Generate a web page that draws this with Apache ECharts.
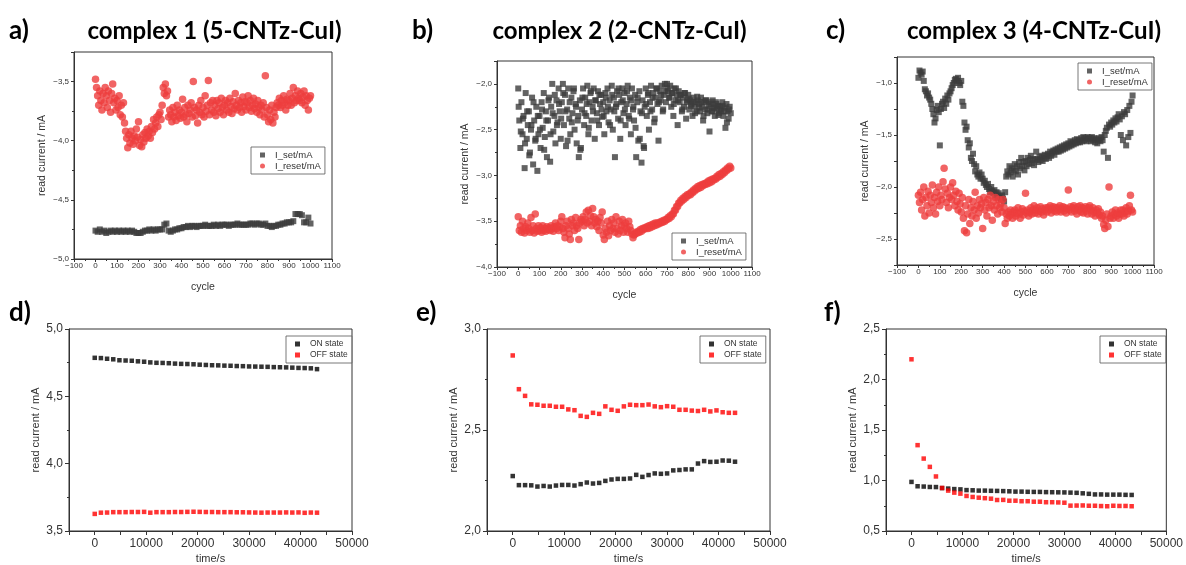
<!DOCTYPE html>
<html>
<head>
<meta charset="utf-8">
<script src="https://cdn.jsdelivr.net/npm/echarts@6/dist/echarts.min.js"></script>
<style>
html,body{margin:0;padding:0;background:#fff;}
#chart{width:1186px;height:565px;}
</style>
</head>
<body>
<div id="chart"></div>
<script>
// ---------------- DATA ----------------
// Panels a-c: read current (mA) vs cycle; values sampled every STEP cycles starting at cycle START
const A_SET_STEP = 10;
const A_SET = [
-4.76,-4.77,-4.75,-4.77,-4.76,-4.78,-4.77,-4.76,-4.77,-4.76,
-4.77,-4.76,-4.77,-4.76,-4.77,-4.76,-4.77,-4.76,-4.77,-4.78,
-4.78,-4.78,-4.77,-4.76,-4.76,-4.75,-4.76,-4.75,-4.76,-4.75,
-4.75,-4.75,-4.71,-4.70,-4.76,-4.77,-4.76,-4.75,-4.75,-4.74,
-4.74,-4.73,-4.73,-4.72,-4.73,-4.72,-4.72,-4.73,-4.72,-4.72,
-4.72,-4.71,-4.72,-4.72,-4.72,-4.71,-4.72,-4.71,-4.72,-4.71,
-4.71,-4.71,-4.72,-4.71,-4.71,-4.71,-4.70,-4.71,-4.71,-4.71,
-4.71,-4.71,-4.70,-4.70,-4.71,-4.70,-4.70,-4.71,-4.71,-4.70,
-4.72,-4.72,-4.73,-4.72,-4.72,-4.71,-4.71,-4.70,-4.70,-4.69,
-4.69,-4.69,-4.68,-4.62,-4.62,-4.62,-4.63,-4.69,-4.69,-4.65,
-4.70];
const A_RESET_STEP = 5;
const A_RESET = [
-3.48,-3.55,-3.62,-3.70,-3.58,-3.66,-3.74,-3.60,-3.68,-3.55,
-3.62,-3.72,-3.58,-3.66,-3.76,-3.60,-3.52,-3.68,-3.64,-3.74,
-3.66,-3.72,-3.62,-3.78,-3.70,-3.80,-3.68,-3.85,-3.92,-3.98,
-4.06,-3.95,-4.02,-3.92,-3.98,-4.03,-3.96,-4.00,-3.90,-3.97,
-3.84,-4.04,-3.99,-4.05,-3.95,-4.01,-3.93,-3.98,-3.90,-3.96,
-3.92,-3.98,-3.88,-3.93,-3.82,-3.90,-3.85,-3.80,-3.88,-3.78,
-3.76,-3.82,-3.70,-3.55,-3.60,-3.52,-3.62,-3.58,-3.80,-3.74,
-3.78,-3.84,-3.72,-3.80,-3.76,-3.83,-3.70,-3.79,-3.74,-3.81,
-3.76,-3.65,-3.80,-3.72,-3.78,-3.84,-3.70,-3.77,-3.74,-3.68,
-3.80,-3.50,-3.72,-3.79,-3.74,-3.85,-3.70,-3.76,-3.66,-3.78,
-3.72,-3.80,-3.62,-3.75,-3.70,-3.49,-3.78,-3.68,-3.74,-3.66,
-3.76,-3.70,-3.79,-3.66,-3.73,-3.68,-3.76,-3.64,-3.72,-3.78,
-3.70,-3.66,-3.74,-3.68,-3.76,-3.64,-3.71,-3.77,-3.67,-3.73,
-3.60,-3.70,-3.74,-3.66,-3.72,-3.68,-3.76,-3.63,-3.71,-3.67,
-3.74,-3.68,-3.62,-3.72,-3.66,-3.75,-3.70,-3.64,-3.73,-3.69,
-3.76,-3.66,-3.72,-3.78,-3.70,-3.74,-3.68,-3.80,-3.45,-3.72,
-3.78,-3.84,-3.74,-3.82,-3.70,-3.85,-3.76,-3.80,-3.72,-3.68,
-3.70,-3.64,-3.72,-3.66,-3.70,-3.62,-3.68,-3.74,-3.65,-3.70,
-3.66,-3.60,-3.70,-3.64,-3.55,-3.68,-3.62,-3.66,-3.58,-3.64,
-3.66,-3.60,-3.68,-3.63,-3.58,-3.70,-3.62,-3.66,-3.74,-3.64,
-3.62];
const B_SET_STEP = 5;
const B_SET = [
-2.05,-2.40,-2.70,-2.20,-2.55,-2.35,-2.92,-2.10,-2.60,-2.45,
-2.30,-2.75,-2.50,-2.15,-2.88,-2.40,-2.62,-2.25,-2.95,-2.55,
-2.35,-2.70,-2.20,-2.48,-2.10,-2.58,-2.30,-2.80,-2.40,-2.15,
-2.85,-2.25,-2.00,-2.52,-2.35,-2.65,-2.18,-2.42,-2.05,-2.30,
-2.60,-2.20,-2.00,-2.45,-2.12,-2.68,-2.28,-2.05,-2.38,-2.55,
-2.15,-2.32,-2.08,-2.50,-2.22,-2.65,-2.40,-2.80,-2.18,-2.70,
-2.28,-2.05,-2.45,-2.15,-2.35,-2.02,-2.55,-2.20,-2.10,-2.40,
-2.25,-2.05,-2.60,-2.18,-2.32,-2.08,-2.45,-2.22,-2.12,-2.36,
-2.20,-2.55,-2.10,-2.30,-2.05,-2.42,-2.18,-2.28,-2.02,-2.50,
-2.15,-2.80,-2.25,-2.08,-2.38,-2.12,-2.60,-2.20,-2.05,-2.32,
-2.10,-2.45,-2.22,-2.02,-2.35,-2.15,-2.55,-2.05,-2.28,-2.40,
-2.12,-2.80,-2.20,-2.62,-2.08,-2.30,-2.86,-2.18,-2.68,-2.25,
-2.05,-2.35,-2.12,-2.50,-2.20,-2.02,-2.28,-2.10,-2.42,-2.15,
-2.05,-2.22,-2.62,-2.08,-2.18,-2.02,-2.30,-2.12,-2.00,-2.20,
-2.00,-2.08,-2.15,-2.02,-2.25,-2.10,-2.35,-2.05,-2.18,-2.12,
-2.45,-2.08,-2.20,-2.12,-2.30,-2.15,-2.25,-2.10,-2.38,-2.18,
-2.12,-2.28,-2.18,-2.22,-2.35,-2.15,-2.25,-2.20,-2.30,-2.18,
-2.22,-2.30,-2.15,-2.25,-2.40,-2.20,-2.28,-2.18,-2.32,-2.24,
-2.52,-2.22,-2.30,-2.18,-2.26,-2.35,-2.20,-2.28,-2.24,-2.32,
-2.25,-2.30,-2.20,-2.35,-2.26,-2.48,-2.22,-2.30,-2.38,-2.25,
-2.32];
// further I_set readings of complex 2, cycles 2, 12, 22, ... 992
const B_SET2_START = 2, B_SET2_STEP = 10;
const B_SET2 = [
-2.25,-2.52,-2.38,-2.65,-2.30,-2.78,-2.45,-2.20,-2.60,-2.35,
-2.50,-2.28,-2.72,-2.40,-2.18,-2.55,-2.32,-2.12,-2.45,-2.22,
-2.38,-2.10,-2.30,-2.62,-2.20,-2.42,-2.05,-2.25,-2.35,-2.72,
-2.15,-2.32,-2.22,-2.48,-2.08,-2.30,-2.18,-2.40,-2.12,-2.28,
-2.35,-2.15,-2.25,-2.45,-2.12,-2.30,-2.22,-2.05,-2.40,-2.18,
-2.28,-2.08,-2.38,-2.18,-2.25,-2.48,-2.15,-2.60,-2.32,-2.70,
-2.22,-2.10,-2.30,-2.15,-2.38,-2.05,-2.20,-2.12,-2.28,-2.08,
-2.05,-2.15,-2.10,-2.22,-2.05,-2.18,-2.12,-2.28,-2.10,-2.20,
-2.16,-2.24,-2.20,-2.32,-2.14,-2.26,-2.20,-2.35,-2.18,-2.28,
-2.20,-2.30,-2.26,-2.22,-2.34,-2.28,-2.24,-2.30,-2.42,-2.28];
const B_RESET_STEP = 5;
const B_RESET = [
-3.45,-3.60,-3.55,-3.62,-3.50,-3.58,-3.63,-3.56,-3.60,-3.52,
-3.58,-3.62,-3.46,-3.60,-3.55,-3.63,-3.42,-3.58,-3.61,-3.55,
-3.60,-3.57,-3.62,-3.55,-3.60,-3.58,-3.61,-3.56,-3.59,-3.57,
-3.60,-3.55,-3.58,-3.61,-3.56,-3.52,-3.58,-3.55,-3.60,-3.56,
-3.50,-3.45,-3.58,-3.62,-3.68,-3.55,-3.50,-3.58,-3.64,-3.70,
-3.48,-3.55,-3.52,-3.60,-3.46,-3.55,-3.58,-3.70,-3.52,-3.48,
-3.50,-3.45,-3.55,-3.48,-3.40,-3.52,-3.38,-3.50,-3.44,-3.55,
-3.36,-3.45,-3.52,-3.48,-3.56,-3.50,-3.60,-3.46,-3.52,-3.40,
-3.65,-3.70,-3.58,-3.62,-3.50,-3.66,-3.55,-3.60,-3.48,-3.58,
-3.52,-3.62,-3.45,-3.58,-3.64,-3.50,-3.60,-3.55,-3.48,-3.62,
-3.55,-3.52,-3.58,-3.62,-3.50,-3.56,-3.60,-3.64,-3.68,-3.65,
-3.64,-3.62,-3.63,-3.61,-3.62,-3.59,-3.61,-3.58,-3.59,-3.57,
-3.58,-3.56,-3.58,-3.55,-3.57,-3.54,-3.56,-3.53,-3.55,-3.52,
-3.54,-3.52,-3.53,-3.51,-3.52,-3.50,-3.51,-3.49,-3.50,-3.48,
-3.48,-3.46,-3.47,-3.44,-3.45,-3.42,-3.42,-3.38,-3.38,-3.34,
-3.34,-3.30,-3.30,-3.27,-3.28,-3.25,-3.26,-3.23,-3.24,-3.21,
-3.22,-3.20,-3.21,-3.18,-3.19,-3.16,-3.17,-3.14,-3.15,-3.12,
-3.14,-3.11,-3.13,-3.10,-3.11,-3.09,-3.10,-3.08,-3.09,-3.06,
-3.08,-3.05,-3.07,-3.04,-3.05,-3.03,-3.04,-3.01,-3.02,-2.99,
-3.01,-2.98,-2.99,-2.96,-2.97,-2.94,-2.95,-2.92,-2.93,-2.90,
-2.92];
const C_SET_STEP = 5;
const C_SET = [
-0.95,-0.88,-0.90,-0.92,-0.89,-0.98,-1.06,-1.08,-1.12,-1.10,
-1.14,-1.16,-1.20,-1.25,-1.30,-1.38,-1.34,-1.26,-1.22,-1.28,
-1.60,-1.25,-1.20,-1.18,-1.24,-1.15,-1.20,-1.12,-1.16,-1.10,
-1.08,-1.05,-1.02,-1.00,-0.97,-0.96,-0.98,-0.95,-1.00,-1.02,
-0.98,-1.18,-1.22,-1.38,-1.45,-1.42,-1.55,-1.62,-1.58,-1.72,
-1.75,-1.68,-1.78,-1.85,-1.80,-1.88,-1.90,-1.86,-1.92,-1.88,
-1.92,-1.96,-1.94,-1.98,-2.00,-1.97,-2.02,-2.05,-2.00,-2.04,
-2.06,-2.03,-2.08,-2.05,-2.10,-2.06,-2.09,-2.12,-2.08,-2.11,
-2.14,-2.05,-1.90,-1.85,-1.88,-1.80,-1.86,-1.82,-1.90,-1.84,
-1.78,-1.85,-1.80,-1.88,-1.76,-1.82,-1.72,-1.80,-1.76,-1.84,
-1.75,-1.80,-1.72,-1.78,-1.74,-1.70,-1.77,-1.73,-1.79,-1.74,
-1.66,-1.73,-1.76,-1.71,-1.74,-1.70,-1.75,-1.72,-1.69,-1.73,
-1.70,-1.68,-1.72,-1.66,-1.70,-1.67,-1.65,-1.69,-1.64,-1.66,
-1.63,-1.66,-1.62,-1.65,-1.61,-1.64,-1.60,-1.63,-1.59,-1.62,
-1.58,-1.61,-1.56,-1.60,-1.57,-1.59,-1.55,-1.58,-1.54,-1.57,
-1.55,-1.57,-1.53,-1.56,-1.52,-1.55,-1.53,-1.56,-1.52,-1.54,
-1.53,-1.56,-1.52,-1.55,-1.53,-1.57,-1.54,-1.58,-1.55,-1.53,
-1.56,-1.52,-1.55,-1.66,-1.50,-1.46,-1.43,-1.72,-1.40,-1.42,
-1.38,-1.40,-1.36,-1.38,-1.34,-1.37,-1.33,-1.30,-1.35,-1.50,
-1.32,-1.55,-1.28,-1.30,-1.60,-1.26,-1.52,-1.22,-1.48,-1.18,
-1.12];
const C_RESET_STEP = 5;
const C_RESET = [
-2.08,-2.15,-2.05,-2.22,-2.12,-2.00,-2.28,-2.10,-2.18,-2.04,
-2.25,-2.08,-2.15,-1.98,-2.20,-2.10,-2.26,-2.05,-2.14,-2.00,
-2.18,-2.08,-2.12,-1.95,-1.82,-2.02,-2.15,-2.06,-2.20,-2.10,
-2.00,-2.12,-1.96,-2.08,-2.18,-2.04,-2.14,-2.22,-2.06,-2.16,
-2.24,-2.10,-2.30,-2.42,-2.18,-2.44,-2.26,-2.12,-2.35,-2.20,
-2.28,-2.14,-2.22,-2.05,-2.30,-2.18,-2.25,-2.12,-2.20,-2.16,
-2.40,-2.10,-2.22,-2.15,-2.28,-2.12,-2.20,-2.08,-2.18,-2.32,
-2.14,-2.22,-2.10,-2.18,-2.26,-2.12,-2.20,-2.16,-2.24,-2.12,
-2.20,-2.35,-2.26,-2.30,-2.24,-2.28,-2.22,-2.26,-2.30,-2.24,
-2.22,-2.28,-2.25,-2.20,-2.26,-2.30,-2.24,-2.21,-2.27,-2.23,
-2.06,-2.25,-2.22,-2.28,-2.24,-2.20,-2.26,-2.22,-2.18,-2.25,
-2.22,-2.20,-2.26,-2.23,-2.19,-2.24,-2.21,-2.27,-2.22,-2.20,
-2.24,-2.20,-2.22,-2.18,-2.25,-2.21,-2.19,-2.23,-2.20,-2.24,
-2.20,-2.22,-2.18,-2.24,-2.21,-2.19,-2.23,-2.20,-2.25,-2.21,
-2.03,-2.22,-2.19,-2.24,-2.20,-2.18,-2.23,-2.21,-2.26,-2.19,
-2.22,-2.18,-2.24,-2.20,-2.25,-2.21,-2.19,-2.23,-2.26,-2.20,
-2.18,-2.22,-2.26,-2.20,-2.24,-2.28,-2.22,-2.25,-2.21,-2.27,
-2.24,-2.30,-2.28,-2.36,-2.40,-2.32,-2.26,-2.38,-2.00,-2.30,
-2.28,-2.24,-2.30,-2.26,-2.22,-2.28,-2.25,-2.30,-2.26,-2.22,
-2.26,-2.22,-2.28,-2.24,-2.20,-2.26,-2.23,-2.18,-2.08,-2.22,
-2.24];

// Panels d-f: read current (mA) vs time (s)
const TIME = [0,1200,2400,3600,4800,6000,7200,8400,9600,10800,12000,13200,14400,15600,16800,18000,19200,20400,21600,22800,24000,25200,26400,27600,28800,30000,31200,32400,33600,34800,36000,37200,38400,39600,40800,42000,43200];
const D_ON = [4.786,4.784,4.779,4.775,4.768,4.766,4.764,4.760,4.757,4.752,4.749,4.748,4.746,4.743,4.741,4.740,4.738,4.735,4.733,4.731,4.730,4.728,4.727,4.725,4.724,4.722,4.721,4.720,4.719,4.717,4.716,4.715,4.713,4.711,4.710,4.708,4.702];
const D_OFF = [3.627,3.636,3.637,3.640,3.640,3.640,3.641,3.641,3.642,3.636,3.640,3.640,3.640,3.641,3.641,3.642,3.643,3.642,3.641,3.641,3.640,3.640,3.640,3.639,3.639,3.638,3.637,3.636,3.637,3.637,3.637,3.638,3.637,3.638,3.635,3.637,3.636];
const E_ON = [2.272,2.227,2.227,2.226,2.220,2.223,2.220,2.225,2.228,2.228,2.225,2.232,2.240,2.235,2.238,2.248,2.255,2.258,2.258,2.260,2.278,2.268,2.277,2.285,2.283,2.285,2.300,2.302,2.305,2.305,2.334,2.346,2.342,2.343,2.349,2.348,2.343];
const E_OFF = [2.869,2.702,2.669,2.627,2.625,2.620,2.620,2.615,2.615,2.602,2.598,2.570,2.565,2.585,2.580,2.617,2.600,2.595,2.617,2.625,2.623,2.623,2.626,2.617,2.613,2.618,2.615,2.600,2.600,2.596,2.594,2.600,2.592,2.597,2.588,2.585,2.585];
const F_ON = [0.986,0.943,0.940,0.936,0.935,0.925,0.920,0.915,0.912,0.905,0.903,0.900,0.900,0.898,0.897,0.895,0.893,0.890,0.890,0.888,0.887,0.887,0.885,0.884,0.883,0.882,0.880,0.878,0.873,0.868,0.862,0.862,0.860,0.860,0.860,0.858,0.857];
const F_OFF = [2.200,1.350,1.217,1.135,1.040,0.926,0.900,0.880,0.870,0.847,0.837,0.830,0.825,0.820,0.807,0.808,0.800,0.800,0.795,0.795,0.790,0.790,0.785,0.785,0.783,0.780,0.751,0.752,0.753,0.750,0.750,0.747,0.745,0.750,0.748,0.748,0.745];

const TITLES = ['complex 1 (5-CNTz-CuI)','complex 2 (2-CNTz-CuI)','complex 3 (4-CNTz-CuI)'];
const PANEL_LABELS = ['a)','b)','c)','d)','e)','f)'];
const Y_NAME = 'read current / mA';
const X_NAME_TOP = 'cycle';
const X_NAME_BOTTOM = 'time/s';
const NAME_SET = 'I_set/mA', NAME_RESET = 'I_reset/mA';
const NAME_ON = 'ON state', NAME_OFF = 'OFF state';

// ---------------- LAYOUT ----------------
const GRIDS = [
  {left:74, top:52, width:258, height:207},
  {left:497, top:61, width:255, height:206},
  {left:897, top:57, width:257, height:208},
  {left:69, top:329, width:283, height:202},
  {left:487, top:329, width:283, height:202},
  {left:886, top:329, width:282, height:202}
];
const Y_RANGES = [[-5,-3.25],[-4,-1.75],[-2.75,-0.75],[3.5,5.0],[2.0,3.0],[0.5,2.5]];
// panel c starts at -2.75, so its ticks are counted every 0.25
const Y_INTERVALS = [0.5,0.5,0.25,0.5,0.5,0.5];

const SET_COLOR = '#3c3c3c', RESET_COLOR = '#ee3d3d';
const ON_COLOR = '#000000', OFF_COLOR = '#ff0000';
const AX_COLOR = '#333';
const FONT = '"Liberation Sans", Arial, sans-serif';

function fmtNum(v, dec){
  let s = v.toFixed(dec).replace('.', ',');
  return s.replace('-', '\u2212');
}
function isMult(v, step){ return Math.abs(v/step - Math.round(v/step)) < 1e-6; }

const xAxes = [], yAxes = [];
for (let i=0;i<6;i++){
  const top = i<3;
  xAxes.push({
    type:'value', gridIndex:i,
    min: top ? -100 : -5000, max: top ? 1100 : 50000, interval: top ? 100 : 5000,
    name: top ? X_NAME_TOP : X_NAME_BOTTOM, nameLocation:'middle',
    nameGap: top ? 23 : 22,
    nameTextStyle:{fontFamily:FONT, fontSize: top?10.5:11, color:'#333'},
    axisLine:{show:true, onZero:false, lineStyle:{color:AX_COLOR, width:1}},
    axisTick:{show:true, inside:false, length: top?3:4, lineStyle:{color:AX_COLOR}},
    minorTick:{show: top, splitNumber:2, length:2, lineStyle:{color:AX_COLOR}},
    splitLine:{show:false},
    axisLabel:{
      fontFamily:FONT, fontSize: top?8:12, color:'#333', margin: top?3:7,
      showMinLabel:true, showMaxLabel:true,
      formatter: top ? (v)=>fmtNum(v,0)
                     : (v)=> (isMult(v,10000) && v>=0) ? String(v) : ''
    }
  });
  yAxes.push({
    type:'value', gridIndex:i,
    min: Y_RANGES[i][0], max: Y_RANGES[i][1], interval:Y_INTERVALS[i],
    name: Y_NAME, nameLocation:'middle', nameGap: top?26:28,
    nameTextStyle:{fontFamily:FONT, fontSize: top?10.5:11, color:'#333'},
    axisLine:{show:true, onZero:false, lineStyle:{color:AX_COLOR, width:1}},
    axisTick:{show:true, inside:false, length: top?3:4, lineStyle:{color:AX_COLOR}},
    minorTick:{show: Y_INTERVALS[i] === 0.5, splitNumber:2, length:2, lineStyle:{color:AX_COLOR}},
    splitLine:{show:false},
    axisLabel:{
      fontFamily:FONT, fontSize: top?8:12, color:'#333', margin: top?5:6,
      formatter:(v)=> isMult(v,0.5) ? fmtNum(v,1) : ''
    }
  });
}

function stepPoints(vals, step, start){ start = start || 0; return vals.map((y,k)=>[start + k*step, y]); }
function timePoints(vals){ return vals.map((y,k)=>[TIME[k], y]); }

const series = [];
const SQ = 6, CI = 7.5;
// panel a
series.push({type:'scatter', name:NAME_SET, xAxisIndex:0, yAxisIndex:0, symbol:'rect', symbolSize:SQ,
  itemStyle:{color:SET_COLOR}, data:stepPoints(A_SET,A_SET_STEP), silent:true});
series.push({type:'scatter', name:NAME_RESET, xAxisIndex:0, yAxisIndex:0, symbol:'circle', symbolSize:CI,
  itemStyle:{color:RESET_COLOR}, data:stepPoints(A_RESET,A_RESET_STEP), silent:true});
// panel b
series.push({type:'scatter', name:NAME_SET, xAxisIndex:1, yAxisIndex:1, symbol:'rect', symbolSize:SQ,
  itemStyle:{color:SET_COLOR}, data:stepPoints(B_SET,B_SET_STEP).concat(stepPoints(B_SET2,B_SET2_STEP,B_SET2_START)), silent:true});
series.push({type:'scatter', name:NAME_RESET, xAxisIndex:1, yAxisIndex:1, symbol:'circle', symbolSize:CI,
  itemStyle:{color:RESET_COLOR}, data:stepPoints(B_RESET,B_RESET_STEP), silent:true});
// panel c
series.push({type:'scatter', name:NAME_SET, xAxisIndex:2, yAxisIndex:2, symbol:'rect', symbolSize:SQ,
  itemStyle:{color:SET_COLOR}, data:stepPoints(C_SET,C_SET_STEP), silent:true});
series.push({type:'scatter', name:NAME_RESET, xAxisIndex:2, yAxisIndex:2, symbol:'circle', symbolSize:CI,
  itemStyle:{color:RESET_COLOR}, data:stepPoints(C_RESET,C_RESET_STEP), silent:true});

const botSets = [[D_ON,D_OFF],[E_ON,E_OFF],[F_ON,F_OFF]];
botSets.forEach((p,j)=>{
  const i = j+3;
  series.push({type:'scatter', name:NAME_ON, xAxisIndex:i, yAxisIndex:i, symbol:'rect', symbolSize:4.5,
    itemStyle:{color:ON_COLOR}, data:timePoints(p[0]), silent:true});
  series.push({type:'scatter', name:NAME_OFF, xAxisIndex:i, yAxisIndex:i, symbol:'rect', symbolSize:4.5,
    itemStyle:{color:OFF_COLOR}, data:timePoints(p[1]), silent:true});
});

function legendAt(left, top, width, names, icons, fontSize){
  return {
    show:true, orient:'vertical', left:left, top:top, width:width,
    backgroundColor:'#fff', borderColor:'#555', borderWidth:0.8,
    padding:[3,4,3,9], itemGap:1, itemWidth:5, itemHeight:5,
    selectedMode:false,
    textStyle:{fontFamily:FONT, fontSize:fontSize, color:'#333', padding:[0,0,0,5], lineHeight:10},
    data: names.map((n,k)=>({name:n, icon:icons[k]}))
  };
}
const legends = [
  legendAt(251,147,74,[NAME_SET,NAME_RESET],['rect','circle'],9.5),
  legendAt(672,233,75,[NAME_SET,NAME_RESET],['rect','circle'],9.5),
  legendAt(1078,63,74,[NAME_SET,NAME_RESET],['rect','circle'],9.5),
  legendAt(286,336,59,[NAME_ON,NAME_OFF],['rect','rect'],8.5),
  legendAt(700,336,62,[NAME_ON,NAME_OFF],['rect','rect'],8.5),
  legendAt(1100,336,62,[NAME_ON,NAME_OFF],['rect','rect'],8.5)
];

const TFONT = 'bold 24px Lato, "Open Sans", sans-serif';
const LFONT = 'bold 26px Lato, "Open Sans", sans-serif';
const graphics = [];
const labelPos = [[9,31],[412,31],[826,31],[9,313],[416,313],[824,313]];
PANEL_LABELS.forEach((t,k)=>{
  graphics.push({type:'text', x:labelPos[k][0], y:labelPos[k][1], silent:true,
    style:{text:t, font:LFONT, fill:'#000', textAlign:'left', textVerticalAlign:'middle'}});
});
const titlePos = [[214.5,31],[619.5,31],[1034,31]];
TITLES.forEach((t,k)=>{
  graphics.push({type:'text', x:titlePos[k][0], y:titlePos[k][1], silent:true,
    style:{text:t, font:TFONT, fill:'#000', textAlign:'center', textVerticalAlign:'middle'}});
});

const chart = echarts.init(document.getElementById('chart'), null, {renderer:'canvas'});
chart.setOption({
  animation:false,
  backgroundColor:'#fff',
  grid: GRIDS.map(g=>Object.assign({show:true, borderColor:AX_COLOR, borderWidth:1, backgroundColor:'transparent', containLabel:false}, g)),
  xAxis: xAxes,
  yAxis: yAxes,
  legend: legends,
  graphic: graphics,
  series: series
});
</script>
</body>
</html>
